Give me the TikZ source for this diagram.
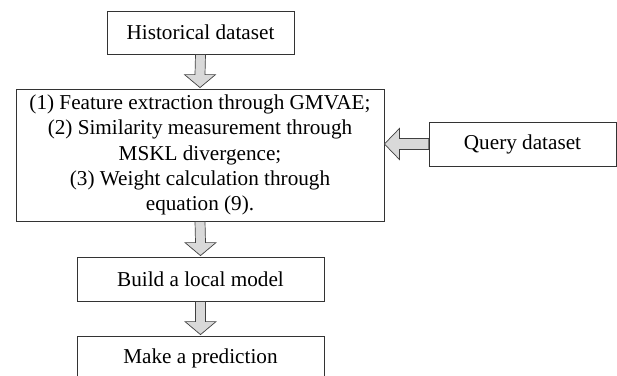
\documentclass[tikz,border=0pt]{standalone}
\usepackage{fontspec}
\setmainfont{Liberation Serif}
\usetikzlibrary{calc}
\tikzset{
  box/.style={draw=black!80, line width=0.8pt, fill=white, inner sep=0pt, align=center,
    font=\fontsize{21.2}{25.2}\selectfont},
  blockarrow/.style={draw=black!75, line width=0.7pt, fill=black!15, line join=miter}
}
\begin{document}
\begin{tikzpicture}[x=1pt,y=-1pt]
\useasboundingbox (0,0) rectangle (617,375);
\node[box, minimum width=187pt, minimum height=43pt] (hist) at (200.5,32.5) {Historical dataset};
\node[box, minimum width=368pt, minimum height=132pt] (main) at (200,155)
  {(1) Feature extraction through GMVAE;\\ (2) Similarity measurement through\\ MSKL divergence;\\ (3) Weight calculation through\\ equation (9).};
\node[box, minimum width=187pt, minimum height=44pt] (query) at (522.5,144) {Query dataset};
\node[box, minimum width=247pt, minimum height=44pt] (build) at (200.5,279) {Build a local model};
\node[box, minimum width=247pt, minimum height=44pt] (make) at (200.5,358) {Make a prediction};
% down arrows
\foreach \a/\b in {hist/main, main/build, build/make}{
  \path[blockarrow] ($(\a.south)+(-5,0)$) -- ($(\b.north)+(-5,-14)$) -- ($(\b.north)+(-15.5,-14)$)
    -- ($(\b.north)+(0,-1)$) -- ($(\b.north)+(15.5,-14)$) -- ($(\b.north)+(5,-14)$)
    -- ($(\a.south)+(5,0)$) -- cycle;
}
% left arrow
\coordinate (tip) at (main.east |- query.west);
\path[blockarrow] (query.west) ++(0,-5.5) -- ($(tip)+(15,-5.5)$) -- ($(tip)+(15,-15.5)$)
  -- (tip) -- ($(tip)+(15,15.5)$) -- ($(tip)+(15,5.5)$) -- ($(query.west)+(0,5.5)$) -- cycle;
\end{tikzpicture}
\end{document}
